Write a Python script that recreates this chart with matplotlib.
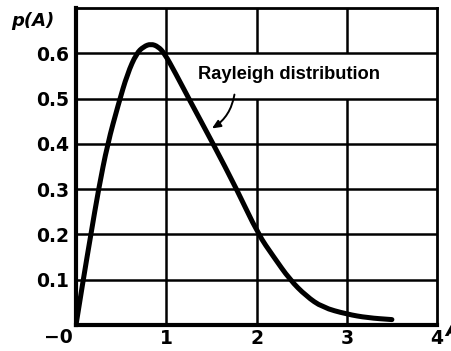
import matplotlib.pyplot as plt
from matplotlib.path import Path
from matplotlib.patches import PathPatch

# amplitude A and density p(A) picked off the drawn curve
amp = [0, 0.08, 0.165, 0.25, 0.35, 0.47, 0.57, 0.67, 0.75, 0.83, 0.91, 0.98,
       1.1, 1.25, 1.52, 1.78, 2.02, 2.185, 2.37, 2.55, 2.73, 3.0, 3.23, 3.5]
dens = [0, 0.1, 0.2, 0.3, 0.4, 0.488, 0.555, 0.6, 0.615, 0.621, 0.615, 0.6,
        0.557, 0.5, 0.4, 0.3, 0.2, 0.152, 0.1, 0.064, 0.039, 0.024, 0.016, 0.012]

xticks = [1, 2, 3, 4]
xlabels = ["1", "2", "3", "4"]
yticks = [0.1, 0.2, 0.3, 0.4, 0.5, 0.6]
ylabels = ["0.1", "0.2", "0.3", "0.4", "0.5", "0.6"]
label = "Rayleigh distribution"

plt.rcParams["font.family"] = "DejaVu Sans"
plt.rcParams["font.weight"] = "bold"

fig = plt.figure(figsize=(4.51, 3.51), dpi=100)
ax = fig.add_axes([0.1685, 0.074, 0.8005, 0.903])
ax.set_xlim(0, 4)
ax.set_ylim(0, 0.7)

# grid: horizontal lines run full width, verticals break around the label
for y in yticks:
    ax.axhline(y, color="black", lw=1.8, zorder=1)
for x in xticks[:-1]:
    if x >= 2:
        ax.vlines(x, 0, 0.5, color="black", lw=1.8, zorder=1)
        ax.vlines(x, 0.6, 0.7, color="black", lw=1.8, zorder=1)
    else:
        ax.vlines(x, 0, 0.7, color="black", lw=1.8, zorder=1)

# smooth the hand-read points with quadratic segments through the midpoints
pts = list(zip(amp, dens))
verts = [pts[0]]
codes = [Path.MOVETO]
for i in range(1, len(pts) - 1):
    mid = ((pts[i][0] + pts[i + 1][0]) / 2, (pts[i][1] + pts[i + 1][1]) / 2)
    verts += [pts[i], mid]
    codes += [Path.CURVE3, Path.CURVE3]
verts.append(pts[-1])
codes.append(Path.LINETO)
ax.add_patch(PathPatch(Path(verts, codes), facecolor="none", edgecolor="black",
                       lw=3.6, capstyle="round", joinstyle="round", zorder=3))

ax.text(1.35, 0.543, label, family="Liberation Sans", fontsize=13.2,
        fontweight="bold", ha="left", va="baseline")
ax.annotate("", xy=(1.48, 0.431), xytext=(1.76, 0.515),
            arrowprops=dict(arrowstyle="-|>,head_length=0.5,head_width=0.22",
                            color="black", lw=1.4,
                            connectionstyle="arc3,rad=-0.25"))

for side in ["left", "bottom"]:
    ax.spines[side].set_linewidth(3.0)
for side in ["top", "right"]:
    ax.spines[side].set_linewidth(2.0)

ax.set_xticks(xticks)
ax.set_xticklabels(xlabels)
ax.set_yticks(yticks)
ax.set_yticklabels(ylabels)
ax.tick_params(length=0, labelsize=13.5)
ax.tick_params(axis="x", pad=3)
ax.tick_params(axis="y", pad=5)

ax.text(-0.04, -0.027, "\u22120", fontsize=13.5, ha="right", va="center",
        clip_on=False)
ax.text(-0.48, 0.672, "p(A)", fontsize=13, style="italic", ha="center",
        va="center", clip_on=False)
ax.text(4.09, -0.012, "A", fontsize=13.5, style="italic", ha="left",
        va="center", clip_on=False)

fig.savefig("out.png", dpi=100)
